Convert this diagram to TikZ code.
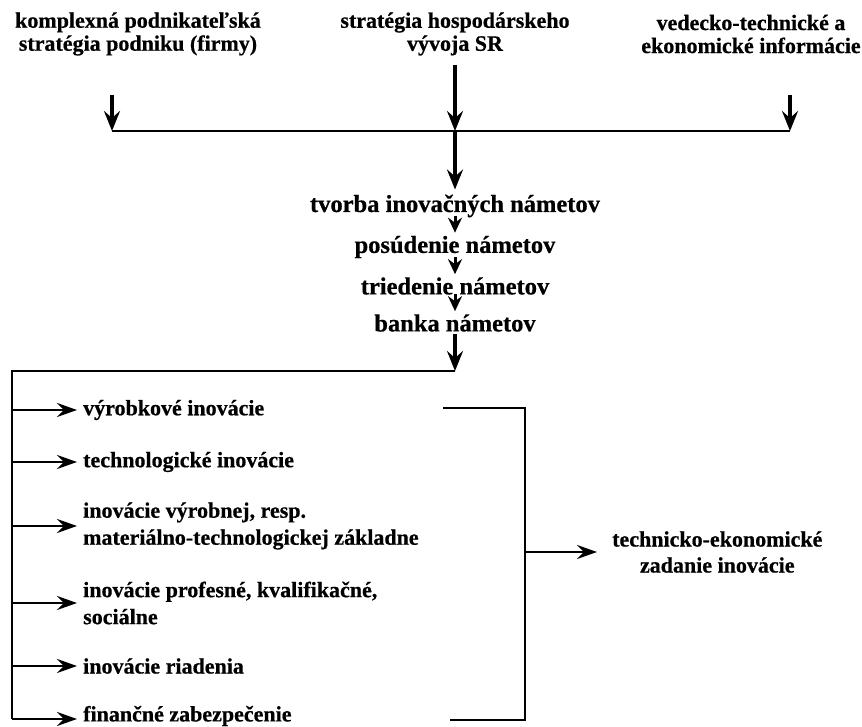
\documentclass[tikz,border=0pt]{standalone}
\usepackage{fontspec}
\setmainfont{Liberation Serif}[BoldFeatures={FakeBold=0.6}]
\usetikzlibrary{arrows.meta}
\begin{document}
\begin{tikzpicture}[x=1pt,y=-1pt,
  lab/.style={font=\bfseries\fontsize{22}{27}\selectfont, inner sep=0pt, align=left},
  clab/.style={font=\bfseries\fontsize{22}{26}\selectfont, inner sep=0pt, align=center},
  chlab/.style={font=\bfseries\fontsize{24.5}{28}\selectfont, inner sep=0pt, align=center},
  toplab/.style={font=\bfseries\fontsize{22}{23}\selectfont, inner sep=0pt, align=center},
  arr/.style={line width=3.2pt, -{Stealth[length=20pt,width=16pt,inset=7pt]}},
  sarr/.style={line width=3pt, -{Stealth[length=15pt,width=14pt,inset=5pt]}},
  harr/.style={line width=2.8pt, -{Stealth[length=20pt,width=14pt,inset=7pt]}},
  ln/.style={line width=2.8pt}]
\path[use as bounding box] (0,0) rectangle (862,727);
% top sources
\node[toplab] (t1) at (138,34) {komplexná podnikateľská\\stratégia podniku (firmy)};
\node[toplab] (t2) at (455,34) {stratégia hospodárskeho\\vývoja SR};
\node[toplab] (t3) at (751,34) {vedecko-technické a\\ekonomické informácie};
\coordinate (a1) at (112,95);
\coordinate (a2) at (455,65);
\coordinate (a3) at (790,95);
\coordinate (j1) at (112,131);
\coordinate (jm) at (455,131);
\coordinate (j3) at (790,131);
\draw[ln] (j1) -- (j3);
\draw[arr] (a1) -- (j1);
\draw[arr] (a3) -- (j3);
\draw[arr] (a2) -- (jm);
% chain
\node[chlab] (n1) at (455,206) {tvorba inovačných námetov};
\node[chlab] (n2) at (455,247) {posúdenie námetov};
\node[chlab] (n3) at (455,286) {triedenie námetov};
\node[chlab] (n4) at (455,323) {banka námetov};
\draw[arr] (jm) -- ([yshift=5pt]n1.north);
\draw[sarr] ([yshift=1pt]n1.south) -- ([yshift=3pt]n2.north);
\draw[sarr] ([yshift=1pt]n2.south) -- ([yshift=3pt]n3.north);
\draw[sarr] ([yshift=1pt]n3.south) -- ([yshift=3pt]n4.north);
\coordinate (jb) at (455,371);
\coordinate (c0) at (12,371);
\coordinate (c6) at (12,719);
\draw[arr] ([yshift=-2pt]n4.south) -- (jb);
\draw[ln] (jb) -- (c0) -- (c6);
% branches
\node[lab, anchor=west] (b1) at (83,410) {výrobkové inovácie};
\node[lab, anchor=west] (b2) at (83,462) {technologické inovácie};
\node[lab, anchor=west] (b3) at (83,526) {inovácie výrobnej, resp.\\materiálno-technologickej základne};
\node[lab, anchor=west] (b4) at (83,603) {inovácie profesné, kvalifikačné,\\sociálne};
\node[lab, anchor=west] (b5) at (83,666) {inovácie riadenia};
\node[lab, anchor=west] (b6) at (83,716) {finančné zabezpečenie};
\foreach \i/\y in {1/410,2/462,3/526,4/603,5/666,6/719}{
  \coordinate (c\i) at (12,\y);
  \draw[harr, shorten >=6pt] (c\i) -- (c\i -| b\i.west);
}
% bracket
\coordinate (r1) at (443,408);
\coordinate (r2) at (525,408);
\coordinate (r3) at (525,720);
\coordinate (r4) at (450,720);
\coordinate (rm) at (525,552);
\draw[ln] (r1) -- (r2) -- (r3) -- (r4);
\node[clab, anchor=west] (out) at (612,552) {technicko-ekonomické\\zadanie inovácie};
\draw[harr, shorten >=15pt] (rm) -- (out.west);
\end{tikzpicture}
\end{document}
